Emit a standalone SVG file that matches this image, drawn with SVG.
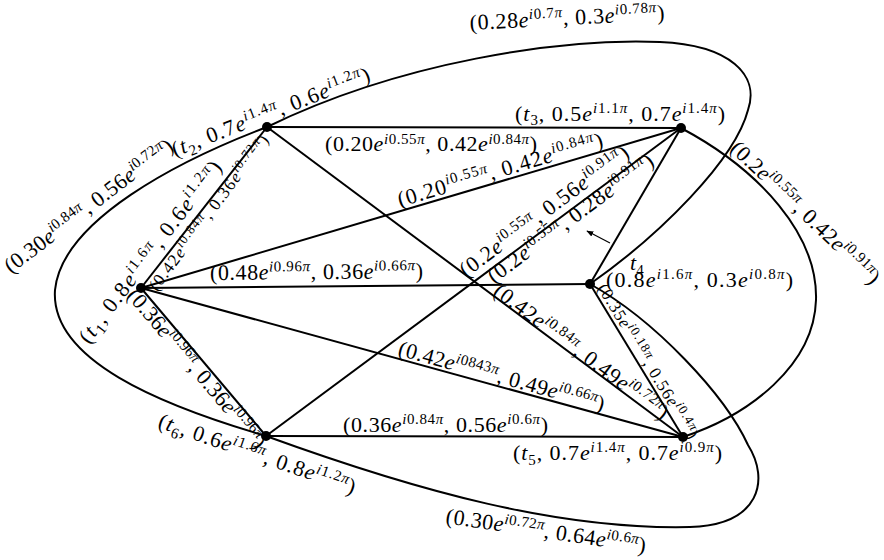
<svg xmlns="http://www.w3.org/2000/svg" width="884" height="560" viewBox="0 0 884 560">
<style>
.e{stroke:#000;stroke-width:2;fill:none}
.thin{stroke:#000;stroke-width:1.2;fill:none}
text{font-family:"Liberation Serif","DejaVu Serif","Times New Roman",serif;font-size:22px;fill:#000}
.i{font-style:italic}
.u{font-size:15px}
.sm{font-size:17px}
.sm .u{font-size:13px}
.dot{fill:#000}
</style>
<defs>
<marker id="ah" viewBox="0 0 10 10" refX="9" refY="5" markerWidth="7" markerHeight="7" orient="auto" markerUnits="userSpaceOnUse"><path d="M0,1 L10,5 L0,9 Z" fill="#000"/></marker>
</defs>
<rect width="884" height="560" fill="#fff"/>
<g id="connectors">
<line class="e" x1="267" y1="127" x2="681" y2="128"/>
<line class="e" x1="267" y1="127" x2="141" y2="288"/>
<line class="e" x1="267" y1="127" x2="683" y2="437"/>
<line class="e" x1="141" y1="288" x2="681" y2="128"/>
<line class="e" x1="141" y1="288" x2="590" y2="284"/>
<line class="e" x1="141" y1="288" x2="683" y2="437"/>
<line class="e" x1="141" y1="288" x2="266" y2="436"/>
<line class="e" x1="266" y1="436" x2="681" y2="128"/>
<line class="e" x1="590" y1="284" x2="681" y2="128"/>
<line class="e" x1="590" y1="284" x2="683" y2="437"/>
<line class="e" x1="266" y1="436" x2="683" y2="437"/>
<path class="e" d="M267,127 C400,62 560,38 660,42 C730,45 760,75 748,110 C735,160 660,235 590,284"/>
<path class="e" d="M681,128 C760,170 818,235 816,300 C814,365 750,415 683,437"/>
<path class="e" d="M267,127 C180,160 62,220 55,290 C50,360 160,405 266,436"/>
<path class="e" d="M266,436 C420,492 560,530 690,527 C760,525 770,480 748,445 C725,395 655,320 590,284"/>
<line class="thin" x1="610" y1="243" x2="587" y2="231" marker-end="url(#ah)"/>
<text x="325" y="151" textLength="212" lengthAdjust="spacing">(0.20<tspan class="i">e</tspan><tspan class="u" dy="-7"><tspan class="i">i</tspan>0.55<tspan class="i">π</tspan></tspan><tspan dy="7">, 0.42</tspan><tspan class="i">e</tspan><tspan class="u" dy="-7"><tspan class="i">i</tspan>0.84<tspan class="i">π</tspan></tspan><tspan dy="7">)</tspan></text>
<text transform="translate(470,30) rotate(-3)" textLength="195" lengthAdjust="spacing">(0.28<tspan class="i">e</tspan><tspan class="u" dy="-8"><tspan class="i">i</tspan>0.7<tspan class="i">π</tspan></tspan><tspan dy="8">, 0.3</tspan><tspan class="i">e</tspan><tspan class="u" dy="-8"><tspan class="i">i</tspan>0.78<tspan class="i">π</tspan></tspan><tspan dy="8">)</tspan></text>
<text transform="translate(11,274) rotate(-37.3)" textLength="206" lengthAdjust="spacing">(0.30<tspan class="i">e</tspan><tspan class="u" dy="-8"><tspan class="i">i</tspan>0.84<tspan class="i">π</tspan></tspan><tspan dy="8">, 0.56</tspan><tspan class="i">e</tspan><tspan class="u" dy="-8"><tspan class="i">i</tspan>0.72<tspan class="i">π</tspan></tspan><tspan dy="8">)</tspan></text>
<text class="sm" transform="translate(157,292) rotate(-53.5)" textLength="189" lengthAdjust="spacing">(0.42<tspan class="i">e</tspan><tspan class="u" dy="-6"><tspan class="i">i</tspan>0.84<tspan class="i">π</tspan></tspan><tspan dy="6">, 0.36</tspan><tspan class="i">e</tspan><tspan class="u" dy="-6"><tspan class="i">i</tspan>0.72<tspan class="i">π</tspan></tspan><tspan dy="6">)</tspan></text>
<text transform="translate(210,280) rotate(-0.5)" textLength="213" lengthAdjust="spacing">(0.48<tspan class="i">e</tspan><tspan class="u" dy="-8"><tspan class="i">i</tspan>0.96<tspan class="i">π</tspan></tspan><tspan dy="8">, 0.36</tspan><tspan class="i">e</tspan><tspan class="u" dy="-8"><tspan class="i">i</tspan>0.66<tspan class="i">π</tspan></tspan><tspan dy="8">)</tspan></text>
<text transform="translate(400,207) rotate(-16.5)" textLength="213" lengthAdjust="spacing">(0.20<tspan class="u" dy="-8"><tspan class="i">i</tspan>0.55<tspan class="i">π</tspan></tspan><tspan dy="8">, 0.42</tspan><tspan class="i">e</tspan><tspan class="u" dy="-8"><tspan class="i">i</tspan>0.84<tspan class="i">π</tspan></tspan><tspan dy="8">)</tspan></text>
<text transform="translate(466,278) rotate(-36.6)" textLength="205" lengthAdjust="spacing">(0.2<tspan class="i">e</tspan><tspan class="u" dy="-8"><tspan class="i">i</tspan>0.55<tspan class="i">π</tspan></tspan><tspan dy="8">, 0.56</tspan><tspan class="i">e</tspan><tspan class="u" dy="-8"><tspan class="i">i</tspan>0.91<tspan class="i">π</tspan></tspan><tspan dy="8">)</tspan></text>
<text transform="translate(494,284) rotate(-36.6)" textLength="201" lengthAdjust="spacing">(0.2<tspan class="i">e</tspan><tspan class="u" dy="-8"><tspan class="i">i</tspan>0.55<tspan class="i">π</tspan></tspan><tspan dy="8">, 0.28</tspan><tspan class="i">e</tspan><tspan class="u" dy="-8"><tspan class="i">i</tspan>0.91<tspan class="i">π</tspan></tspan><tspan dy="8">)</tspan></text>
<text transform="translate(492,294) rotate(36.7)" textLength="212" lengthAdjust="spacing">(0.42<tspan class="i">e</tspan><tspan class="u" dy="-8"><tspan class="i">i</tspan>0.84<tspan class="i">π</tspan></tspan><tspan dy="8">, 0.49</tspan><tspan class="i">e</tspan><tspan class="u" dy="-8"><tspan class="i">i</tspan>0.72<tspan class="i">π</tspan></tspan><tspan dy="8">)</tspan></text>
<text transform="translate(397,355) rotate(15.4)" textLength="213" lengthAdjust="spacing">(0.42<tspan class="i">e</tspan><tspan class="u" dy="-8"><tspan class="i">i</tspan>0843<tspan class="i">π</tspan></tspan><tspan dy="8">, 0.49</tspan><tspan class="i">e</tspan><tspan class="u" dy="-8"><tspan class="i">i</tspan>0.66<tspan class="i">π</tspan></tspan><tspan dy="8">)</tspan></text>
<text class="sm" transform="translate(597,288) rotate(58.7)" textLength="178" lengthAdjust="spacing">(0.35<tspan class="i">e</tspan><tspan class="u" dy="-6"><tspan class="i">i</tspan>0.18<tspan class="i">π</tspan></tspan><tspan dy="6">, 0.56</tspan><tspan class="i">e</tspan><tspan class="u" dy="-6"><tspan class="i">i</tspan>0.4<tspan class="i">π</tspan></tspan><tspan dy="6">)</tspan></text>
<text transform="translate(126,296) rotate(49.8)" textLength="202" lengthAdjust="spacing">(0.36<tspan class="i">e</tspan><tspan class="u" dy="-8"><tspan class="i">i</tspan>0.96<tspan class="i">π</tspan></tspan><tspan dy="8">, 0.36</tspan><tspan class="i">e</tspan><tspan class="u" dy="-8"><tspan class="i">i</tspan>0.96<tspan class="i">π</tspan></tspan><tspan dy="8">)</tspan></text>
<text x="343" y="432" textLength="205" lengthAdjust="spacing">(0.36<tspan class="i">e</tspan><tspan class="u" dy="-8"><tspan class="i">i</tspan>0.84<tspan class="i">π</tspan></tspan><tspan dy="8">, 0.56</tspan><tspan class="i">e</tspan><tspan class="u" dy="-8"><tspan class="i">i</tspan>0.6<tspan class="i">π</tspan></tspan><tspan dy="8">)</tspan></text>
<text transform="translate(729,150) rotate(43.5)" textLength="197" lengthAdjust="spacing">(0.2<tspan class="i">e</tspan><tspan class="u" dy="-8"><tspan class="i">i</tspan>0.55<tspan class="i">π</tspan></tspan><tspan dy="8">, 0.42</tspan><tspan class="i">e</tspan><tspan class="u" dy="-8"><tspan class="i">i</tspan>0.91<tspan class="i">π</tspan></tspan><tspan dy="8">)</tspan></text>
<text transform="translate(445,523) rotate(8.5)" textLength="202" lengthAdjust="spacing">(0.30<tspan class="i">e</tspan><tspan class="u" dy="-8"><tspan class="i">i</tspan>0.72<tspan class="i">π</tspan></tspan><tspan dy="8">, 0.64</tspan><tspan class="i">e</tspan><tspan class="u" dy="-8"><tspan class="i">i</tspan>0.6<tspan class="i">π</tspan></tspan><tspan dy="8">)</tspan></text>
</g>
<g id="t1">
<circle class="dot" cx="141" cy="288" r="5"/>
<text transform="translate(89,345) rotate(-53)" textLength="222" lengthAdjust="spacing">(<tspan class="i">t</tspan><tspan class="u" dy="5">1</tspan><tspan dy="-5">, 0.8</tspan><tspan class="i">e</tspan><tspan class="u" dy="-8"><tspan class="i">i</tspan>1.6<tspan class="i">π</tspan></tspan><tspan dy="8">, 0.6</tspan><tspan class="i">e</tspan><tspan class="u" dy="-8"><tspan class="i">i</tspan>1.2<tspan class="i">π</tspan></tspan><tspan dy="8">)</tspan></text>
</g>
<g id="t2">
<circle class="dot" cx="267" cy="127" r="5"/>
<text transform="translate(175,157) rotate(-21.3)" textLength="211" lengthAdjust="spacing">(<tspan class="i">t</tspan><tspan class="u" dy="5">2</tspan><tspan dy="-5">, 0.7</tspan><tspan class="i">e</tspan><tspan class="u" dy="-8"><tspan class="i">i</tspan>1.4<tspan class="i">π</tspan></tspan><tspan dy="8">, 0.6</tspan><tspan class="i">e</tspan><tspan class="u" dy="-8"><tspan class="i">i</tspan>1.2<tspan class="i">π</tspan></tspan><tspan dy="8">)</tspan></text>
</g>
<g id="t3">
<circle class="dot" cx="681" cy="128" r="5"/>
<text x="515" y="121" textLength="210" lengthAdjust="spacing">(<tspan class="i">t</tspan><tspan class="u" dy="4">3</tspan><tspan dy="-4">, 0.5</tspan><tspan class="i">e</tspan><tspan class="u" dy="-8"><tspan class="i">i</tspan>1.1<tspan class="i">π</tspan></tspan><tspan dy="8">, 0.7</tspan><tspan class="i">e</tspan><tspan class="u" dy="-8"><tspan class="i">i</tspan>1.4<tspan class="i">π</tspan></tspan><tspan dy="8">)</tspan></text>
</g>
<g id="t4">
<circle class="dot" cx="590" cy="284" r="5"/>
<text x="630" y="270"><tspan class="i">t</tspan><tspan class="u" dy="5">4</tspan></text>
<text x="606" y="287" textLength="187" lengthAdjust="spacing">(0.8<tspan class="i">e</tspan><tspan class="u" dy="-8"><tspan class="i">i</tspan>1.6<tspan class="i">π</tspan></tspan><tspan dy="8">, 0.3</tspan><tspan class="i">e</tspan><tspan class="u" dy="-8"><tspan class="i">i</tspan>0.8<tspan class="i">π</tspan></tspan><tspan dy="8">)</tspan></text>
</g>
<g id="t5">
<circle class="dot" cx="683" cy="437" r="5"/>
<text x="513" y="460" textLength="209" lengthAdjust="spacing">(<tspan class="i">t</tspan><tspan class="u" dy="5">5</tspan><tspan dy="-5">, 0.7</tspan><tspan class="i">e</tspan><tspan class="u" dy="-8"><tspan class="i">i</tspan>1.4<tspan class="i">π</tspan></tspan><tspan dy="8">, 0.7</tspan><tspan class="i">e</tspan><tspan class="u" dy="-8"><tspan class="i">i</tspan>0.9<tspan class="i">π</tspan></tspan><tspan dy="8">)</tspan></text>
</g>
<g id="t6">
<circle class="dot" cx="266" cy="436" r="5"/>
<text transform="translate(157,427) rotate(19)" textLength="207" lengthAdjust="spacing">(<tspan class="i">t</tspan><tspan class="u" dy="5">6</tspan><tspan dy="-5">, 0.6</tspan><tspan class="i">e</tspan><tspan class="u" dy="-8"><tspan class="i">i</tspan>1.6<tspan class="i">π</tspan></tspan><tspan dy="8">, 0.8</tspan><tspan class="i">e</tspan><tspan class="u" dy="-8"><tspan class="i">i</tspan>1.2<tspan class="i">π</tspan></tspan><tspan dy="8">)</tspan></text>
</g>
</svg>
